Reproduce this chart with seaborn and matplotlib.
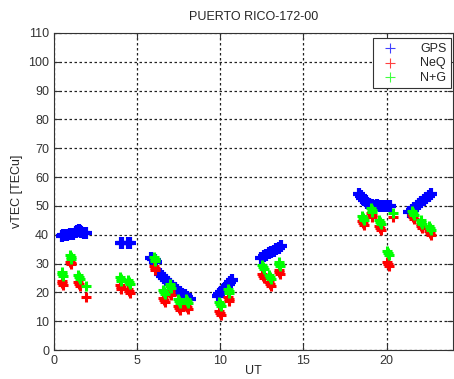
import numpy as np
import pandas as pd
import matplotlib
matplotlib.use("Agg")
import matplotlib.pyplot as plt
import seaborn as sns

# GPS vTEC (blue)
gps_t = [0.45, 0.55, 0.65, 0.8, 0.95, 1.05, 1.15, 1.3, 1.4, 1.5, 1.55, 1.65, 1.8, 1.95,
         4.0, 4.1, 4.45, 4.55,
         5.85, 5.95, 6.05, 6.15,
         6.4, 6.5, 6.6, 6.75, 6.85, 7.0, 7.1, 7.25, 7.4, 7.55, 7.7, 7.85, 8.0, 8.15,
         9.85, 9.95, 10.05, 10.2, 10.3, 10.4, 10.5, 10.6, 10.7,
         12.45, 12.6, 12.75, 12.9, 13.05, 13.2, 13.35, 13.5, 13.65,
         18.35, 18.45, 18.55, 18.65, 18.75, 18.85, 18.95, 19.05, 19.15, 19.3, 19.45, 19.6, 19.75, 19.9, 20.05, 20.2,
         21.35, 21.5, 21.65, 21.8, 21.95, 22.1, 22.25, 22.4, 22.55, 22.7]
gps_v = [39.5, 39.8, 40.0, 40.0, 40.2, 40.3, 40.3, 40.8, 41.2, 41.5, 41.2, 40.8, 40.6, 40.5,
         37.0, 37.0, 37.0, 37.0,
         32.0, 31.6, 31.2, 30.6,
         26.5, 25.8, 25.0, 24.2, 23.6, 22.8, 22.2, 21.4, 20.8, 20.2, 19.6, 19.0, 18.4, 17.8,
         18.8, 19.4, 20.0, 21.0, 21.6, 22.3, 23.0, 23.7, 24.3,
         32.0, 32.5, 33.0, 33.5, 34.0, 34.5, 35.0, 35.5, 36.0,
         54.0, 53.4, 52.8, 52.2, 51.6, 51.0, 50.6, 50.4, 50.2, 50.0, 50.2, 50.0, 49.8, 50.0, 49.8, 50.0,
         47.8, 48.5, 49.2, 49.9, 50.6, 51.3, 52.0, 52.7, 53.4, 54.0]

# NeQuick (red)
neq_t = [0.45, 0.5, 0.55, 0.95, 1.0, 1.05, 1.45, 1.5, 1.55, 1.9,
         3.95, 4.0, 4.05, 4.45, 4.5, 4.55, 6.0, 6.05, 6.1, 6.55, 6.6, 6.65,
         6.95, 7.0, 7.05, 7.45, 7.5, 7.55, 7.95, 8.0, 8.05, 9.95, 10.0, 10.05,
         10.45, 10.5, 10.55, 12.5, 12.55, 12.6, 12.95, 13.0, 13.05, 13.5, 13.55, 13.6,
         18.55, 18.6, 18.65, 19.05, 19.1, 19.15, 19.55, 19.6, 19.65, 20.05, 20.1, 20.15, 20.4,
         21.55, 21.6, 21.65, 22.05, 22.1, 22.15, 22.55, 22.6, 22.65]
neq_v = [24.0, 23.3, 22.6, 30.6, 30.2, 29.8, 23.6, 22.9, 22.2, 18.4,
         22.6, 21.9, 21.2, 21.2, 20.5, 19.8, 29.1, 28.4, 27.7, 18.0, 17.3, 16.6,
         20.4, 19.7, 19.0, 15.2, 14.5, 13.8, 15.7, 15.0, 14.3, 13.5, 12.8, 12.1,
         18.5, 17.8, 17.1, 26.4, 25.7, 25.0, 23.6, 22.9, 22.2, 27.7, 27.0, 26.3,
         44.7, 44.0, 43.3, 47.5, 46.8, 46.1, 43.0, 42.3, 41.6, 30.5, 29.8, 29.1, 46.2,
         46.8, 46.1, 45.4, 43.7, 43.0, 42.3, 41.3, 40.6, 39.9]

# NeQuick + GPS (green)
nqg_t = neq_t
nqg_v = [27.0, 26.3, 25.6, 32.9, 32.2, 31.5, 26.1, 25.4, 24.7, 22.2,
         25.2, 24.5, 23.8, 24.3, 23.6, 22.9, 32.3, 31.6, 30.9, 20.8, 20.1, 19.4,
         22.9, 22.2, 21.5, 17.7, 17.0, 16.3, 17.7, 17.0, 16.3, 16.7, 16.0, 15.3,
         21.2, 20.5, 19.8, 29.4, 28.7, 28.0, 26.1, 25.4, 24.7, 30.5, 29.8, 29.1,
         46.4, 45.7, 45.0, 49.3, 48.6, 47.9, 45.1, 44.4, 43.7, 34.3, 33.6, 32.9, 47.5,
         48.2, 47.5, 46.8, 45.1, 44.4, 43.7, 43.0, 42.3, 41.6]

df = pd.concat([
    pd.DataFrame({"UT": gps_t, "vTEC": gps_v, "model": "GPS"}),
    pd.DataFrame({"UT": neq_t, "vTEC": neq_v, "model": "NeQ"}),
    pd.DataFrame({"UT": nqg_t, "vTEC": nqg_v, "model": "N+G"}),
], ignore_index=True)

sns.set_style("white")
plt.rcParams["font.family"] = ["Liberation Sans", "DejaVu Sans"]

fig = plt.figure(figsize=(4.54, 3.79), dpi=100)
ax = fig.add_axes([0.119, 0.0765, 0.879, 0.8365])

colors = {"GPS": "#0000ff", "NeQ": "#ff0000", "N+G": "#00ff00"}
for name in ["GPS", "NeQ", "N+G"]:
    sub = df[df["model"] == name]
    sns.scatterplot(data=sub, x="UT", y="vTEC", marker="+",
                    s=70 if name == "GPS" else 60,
                    color=colors[name], linewidth=3.0 if name == "GPS" else 2.2,
                    label=name, ax=ax, zorder=3)

ax.set_xlim(0, 24)
ax.set_ylim(0, 110)
ax.set_xticks([0, 5, 10, 15, 20])
ax.set_yticks(range(0, 111, 10))
ax.grid(True, linestyle=(0, (2, 2)), color="#222222", linewidth=0.9)
ax.tick_params(direction="in", labelsize=9, length=4, colors="#333333",
               left=True, bottom=True, top=True, right=True)
for sp in ax.spines.values():
    sp.set_color("#333333")
    sp.set_linewidth(0.8)

ax.set_title("PUERTO RICO-172-00", fontsize=9, pad=9)
ax.set_ylabel("vTEC [TECu]", fontsize=9)
ax.set_xlabel("UT", fontsize=9)
ax.xaxis.set_label_coords(0.5, -0.048)

leg = ax.legend(loc="upper right", bbox_to_anchor=(0.995, 0.983), borderaxespad=0,
                fontsize=9, frameon=True, fancybox=False, framealpha=1, edgecolor="#333333",
                handletextpad=1.4, borderpad=0.35, labelspacing=0.2, markerscale=0.9)
leg.get_frame().set_linewidth(0.8)
for h in leg.legend_handles:
    h.set_linewidth(0.8)
    h.set_alpha(0.75)

fig.savefig("out.png", dpi=100)
